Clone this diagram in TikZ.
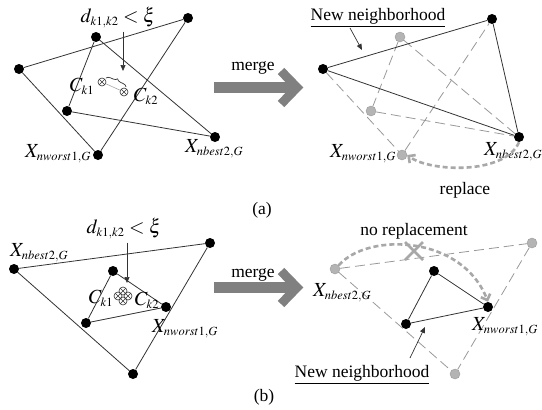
\documentclass[tikz,border=0pt]{standalone}
\usepackage{mathptmx}
\usepackage[no-math]{fontspec}
\setmainfont{Liberation Serif}
\DeclareMathSizes{20}{20}{12.5}{10}
\usetikzlibrary{arrows.meta,decorations.pathreplacing,calc}
\definecolor{lineblk}{HTML}{333333}
\definecolor{dashg}{HTML}{999999}
\definecolor{dotg}{HTML}{B4B4B4}
\definecolor{curveg}{HTML}{A8A8A8}
\definecolor{mergeg}{HTML}{808080}
\tikzset{
  bdot/.style={circle,fill=black,inner sep=0,minimum size=10pt},
  gdot/.style={circle,fill=dotg,draw=dotg!85!black,line width=0.4pt,inner sep=0,minimum size=10pt},
  edge/.style={draw=lineblk,line width=0.8pt},
  dedge/.style={draw=dashg,line width=0.8pt,dash pattern=on 10pt off 5pt},
  curvearrow/.style={draw=curveg,line width=2.6pt,dash pattern=on 5pt off 3pt,-{Straight Barb[length=5pt,width=10pt]}},
  pointer/.style={draw=lineblk,line width=0.7pt,-{Triangle[length=6pt,width=5pt]}},
  mlab/.style={inner sep=0,font=\fontsize{20}{24}\selectfont},
  tlab/.style={inner sep=0,font=\fontsize{17.5}{21}\selectfont},
  otim/.style={circle,draw=lineblk,line width=0.6pt,minimum size=8pt,inner sep=0,
    path picture={\draw[lineblk,line width=0.6pt]
      (path picture bounding box.north west)--(path picture bounding box.south east)
      (path picture bounding box.north east)--(path picture bounding box.south west);}},
  mergebar/.style={draw=mergeg,line width=11pt},
  mergehead/.style={draw=mergeg,line width=9pt,line join=miter}
}
\begin{document}
\begin{tikzpicture}[x=1pt,y=-1pt]
\useasboundingbox (0,0) rectangle (542,410);

% ---------------- (a) left ----------------
\node[bdot] (a1) at (19,69) {};
\node[bdot] (a2) at (96,37) {};
\node[bdot] (a3) at (188,18) {};
\node[bdot] (a4) at (67,111) {};
\node[bdot] (a5) at (98,155) {};
\node[bdot] (a6) at (215,137) {};
\draw[edge] (a1) -- (a3);
\draw[edge] (a1) -- (a5);
\draw[edge] (a2) -- (a4);
\draw[edge] (a2) -- (a6);
\draw[edge] (a4) -- (a6);
\draw[edge] (a5) -- (a3);
\node[mlab,anchor=base] (da) at (118,22) {$d_{k1,k2}<\xi$};
\coordinate (dat) at (123,71);
\draw[pointer] (da.south -| dat) ++(0,4) -- (dat);
\node[otim] (oa1) at (102,82) {};
\node[otim] (oa2) at (124,92) {};
\draw[dashg,line width=0.5pt] (oa1) -- (oa2);
\draw[decorate,decoration={brace,amplitude=4pt},lineblk,line width=0.7pt] (106,78) -- (126,87);
\node[mlab,anchor=base] (cka1) at (82,91) {$C_{k1}$};
\node[mlab,anchor=base] (cka2) at (146,101) {$C_{k2}$};
\node[mlab,anchor=base east] (xwa) at (91,157) {$X_{nworst1,G}$};
\node[mlab,anchor=base west] (xba) at (185,152) {$X_{nbest2,G}$};

% merge arrow (a)
\draw[mergebar] (214,87.5) -- (296,87.5);
\draw[mergehead] (281,71) -- (297,87.5) -- (281,104);
\node[tlab,anchor=base] (mga) at (253,70) {merge};

% ---------------- (a) right ----------------
\node[bdot] (r1) at (323,69) {};
\node[gdot] (r2) at (400,37) {};
\node[bdot] (r3) at (492,19) {};
\node[gdot] (r4) at (371,111) {};
\node[gdot] (r5) at (402,155) {};
\node[bdot] (r6) at (519,137) {};
\draw[dedge] (r1) -- (r5);
\draw[dedge] (r2) -- (r4);
\draw[dedge] (r2) -- (r6);
\draw[dedge] (r4) -- (r6);
\draw[dedge] (r5) -- (r3);
\draw[edge] (r1) -- (r3);
\draw[edge] (r1) -- (r6);
\draw[edge] (r3) -- (r6);
\node[tlab,anchor=base] (nna) at (378,20) {\underline{New neighborhood}};
\coordinate (nnat) at (362,50);
\draw[pointer] (350,28) -- (nnat);
\node[mlab,anchor=base east] (xwar) at (396,157) {$X_{nworst1,G}$};
\node[mlab,anchor=base west] (xbar) at (484,155) {$X_{nbest2,G}$};
\draw[curvearrow] (r6.south) .. controls (505,175) and (430,172) .. (r5.east);
\node[tlab,anchor=base] (rep) at (465,194) {replace};
\node[tlab,anchor=base] (la) at (262,214) {(a)};

% ---------------- (b) left ----------------
\node[bdot] (c1) at (14,269) {};
\node[bdot] (c2) at (210,243) {};
\node[bdot] (c3) at (133,374) {};
\node[bdot] (c4) at (113,271) {};
\node[bdot] (c5) at (166,307) {};
\node[bdot] (c6) at (86,323) {};
\draw[edge] (c1) -- (c2);
\draw[edge] (c1) -- (c3);
\draw[edge] (c2) -- (c3);
\draw[edge] (c4) -- (c5);
\draw[edge] (c4) -- (c6);
\draw[edge] (c6) -- (c5);
\node[mlab,anchor=base] (db) at (124,233) {$d_{k1,k2}<\xi$};
\coordinate (dbt) at (127,283);
\draw[pointer] (db.south -| dbt) ++(0,4) -- (dbt);
\node[otim] (ob1) at (118,296) {};
\node[otim] (ob2) at (123,291) {};
\node[otim] (ob3) at (123,301) {};
\node[otim] (ob4) at (128,296) {};
\node[mlab,anchor=base] (ckb1) at (101,303) {$C_{k1}$};
\node[mlab,anchor=base] (ckb2) at (147,305) {$C_{k2}$};
\node[mlab,anchor=base west] (xbb) at (10,256) {$X_{nbest2,G}$};
\node[mlab,anchor=base west] (xwb) at (152,332) {$X_{nworst1,G}$};

% merge arrow (b)
\draw[mergebar] (214,287.5) -- (296,287.5);
\draw[mergehead] (281,271) -- (297,287.5) -- (281,304);
\node[tlab,anchor=base] (mgb) at (253,277) {merge};

% ---------------- (b) right ----------------
\node[gdot] (e1) at (335,269) {};
\node[gdot] (e2) at (532,243) {};
\node[gdot] (e3) at (455,374) {};
\node[bdot] (d1) at (434,271) {};
\node[bdot] (d2) at (488,307) {};
\node[bdot] (d3) at (406,324) {};
\draw[dedge] (e1) -- (e2);
\draw[dedge] (e1) -- (e3);
\draw[dedge] (e2) -- (e3);
\draw[edge] (d1) -- (d2);
\draw[edge] (d1) -- (d3);
\draw[edge] (d3) -- (d2);
\node[tlab,anchor=base] (nr) at (414,235) {no replacement};
\draw[curvearrow] (e1.north east) .. controls (368,232) and (462,235) .. (d2.north);
\coordinate (xm) at (414,251);
\draw[curveg,line width=2.8pt] ($(xm)+(-9,-9)$) -- ($(xm)+(9,9)$) ($(xm)+(9,-9)$) -- ($(xm)+(-9,9)$);
\node[mlab,anchor=base west] (xbbr) at (313,296) {$X_{nbest2,G}$};
\node[mlab,anchor=base west] (xwbr) at (472,330) {$X_{nworst1,G}$};
\node[tlab,anchor=base] (nnb) at (362,377) {\underline{New neighborhood}};
\coordinate (nnbt) at (425,327);
\draw[pointer] (410,358) -- (nnbt);
\node[tlab,anchor=base] (lb) at (264,401) {(b)};
\end{tikzpicture}
\end{document}
